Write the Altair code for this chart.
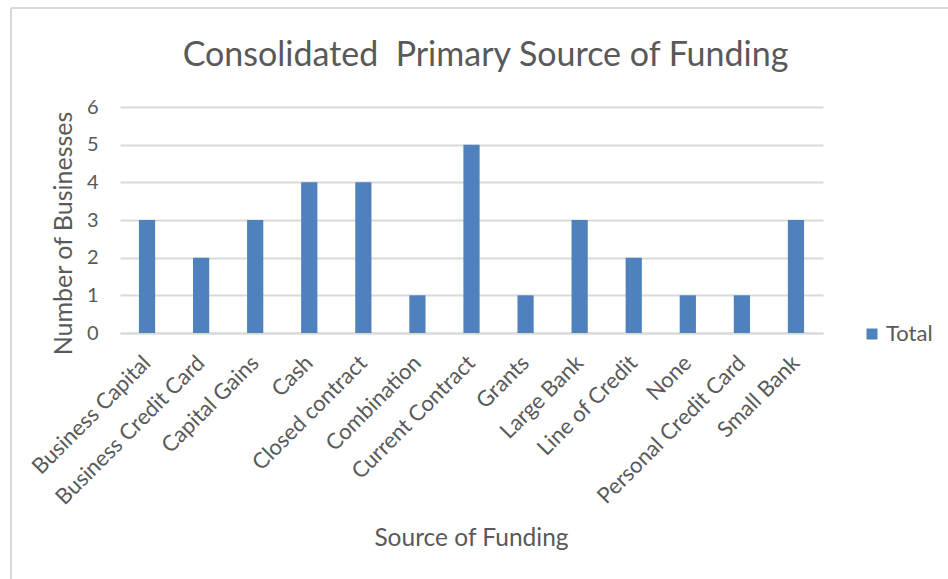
import altair as alt
import pandas as pd

# Number of businesses by their primary source of funding
sources = [
    "Business Capital", "Business Credit Card", "Capital Gains", "Cash",
    "Closed contract", "Combination", "Current Contract", "Grants",
    "Large Bank", "Line of Credit", "None", "Personal Credit Card",
    "Small Bank",
]
totals = [3, 2, 3, 4, 4, 1, 5, 1, 3, 2, 1, 1, 3]
series = ["Total"] * len(sources)

df = pd.DataFrame({"Source": sources, "Count": totals, "Series": series})

FONT = "Lato"
TEXT = "#595959"
GRID = "#D9D9D9"
BAR = "#4F81BD"

bars = alt.Chart(df).mark_bar(width=alt.RelativeBandSize(0.3), color=BAR).encode(
    x=alt.X(
        "Source:N",
        sort=sources,
        title="Source of Funding",
        scale=alt.Scale(paddingInner=0, paddingOuter=0),
        axis=alt.Axis(
            labelAngle=-45,
            labelAlign="right",
            labelBaseline="middle",
            labelPadding=26,
            labelFontSize=22,
            labelColor=TEXT,
            labelFont=FONT,
            labelOverlap=False,
            labelLimit=400,
            ticks=False,
            domainColor=GRID,
            domainWidth=2,
            titleFontSize=24.5,
            titleFontWeight="normal",
            titleColor=TEXT,
            titleFont=FONT,
            titleX=351,
            titleY=212,
            titleBaseline="alphabetic",
            titleAnchor="middle",
        ),
    ),
    y=alt.Y(
        "Count:Q",
        title="Number of Businesses",
        scale=alt.Scale(domain=[0, 6], nice=False),
        axis=alt.Axis(
            values=[0, 1, 2, 3, 4, 5, 6],
            format="d",
            domain=False,
            ticks=False,
            labelPadding=22,
            labelFontSize=20,
            labelColor=TEXT,
            labelFont=FONT,
            gridColor=GRID,
            gridWidth=2,
            titleFontSize=25,
            titleFontWeight="normal",
            titleColor=TEXT,
            titleFont=FONT,
            titleX=-57,
            titleY=126,
            titleBaseline="middle",
            titleAngle=-90,
        ),
    ),
    fill=alt.Fill(
        "Series:N",
        scale=alt.Scale(range=[BAR]),
        legend=alt.Legend(
            title=None,
            orient="none",
            legendX=741,
            legendY=216,
            symbolType="square",
            symbolSize=121,
            symbolStrokeWidth=0,
            labelFontSize=22,
            labelColor=TEXT,
            labelFont=FONT,
            labelOffset=3,
        ),
    ),
)

# light frame around the chart area (top and left edges)
frame_top = alt.Chart(df).mark_rule(color=GRID, strokeWidth=2).encode(
    x=alt.value(-109), x2=alt.value(828), y=alt.value(-99)
)
frame_left = alt.Chart(df).mark_rule(color=GRID, strokeWidth=2).encode(
    x=alt.value(-109), y=alt.value(-99), y2=alt.value(472)
)

chart = (
    alt.layer(frame_top, frame_left, bars)
    .properties(
        width=703,
        height=226,
        title=alt.TitleParams(
            "Consolidated\u00a0 Primary Source of Funding",
            fontSize=34,
            font=FONT,
            fontWeight="normal",
            color=TEXT,
            anchor="middle",
            frame="group",
            baseline="alphabetic",
            dx=14,
            offset=-93,
        ),
        autosize=alt.AutoSizeParams(type="none"),
        padding={"left": 120, "top": 107, "right": 125, "bottom": 246},
        background="white",
    )
    .configure_view(stroke=None)
)

chart.save("out.html", embed_options={"renderer": "svg", "actions": False})
